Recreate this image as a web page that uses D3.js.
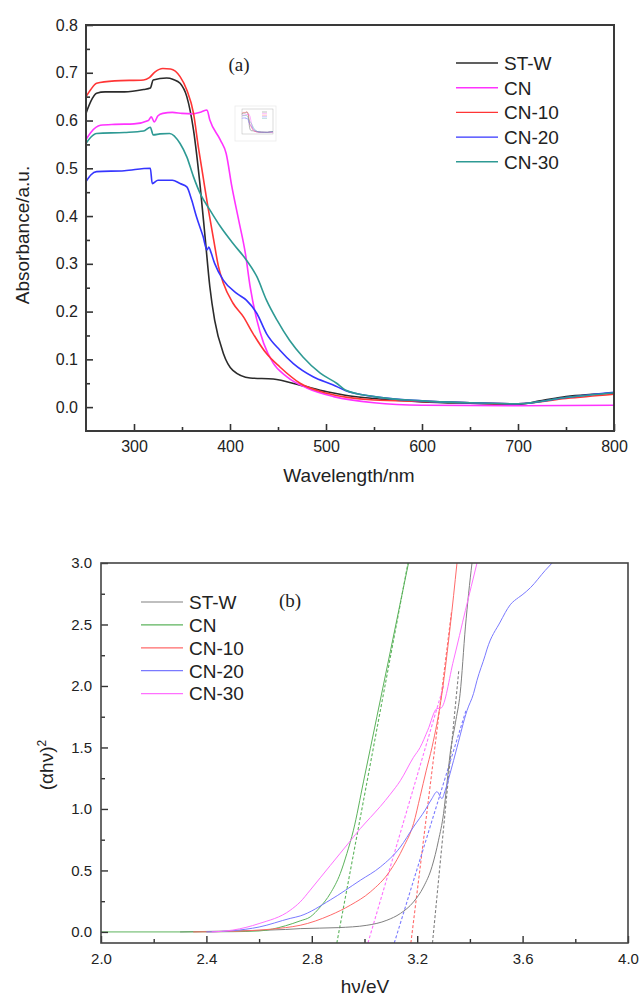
<!DOCTYPE html>
<html>
<head>
<meta charset="UTF-8">
<title>UV-vis absorbance and Tauc plot</title>
<script src="https://cdn.jsdelivr.net/npm/d3@7/dist/d3.min.js"></script>
<style>
  body { margin: 0; background: #fff; }
  text { font-family: "Liberation Sans", Arial, sans-serif; fill: #222; }
</style>
</head>
<body>
<script>
// ---- data (a): absorbance vs wavelength ----
var seriesNames = ["ST-W", "CN", "CN-10", "CN-20", "CN-30"];

var wlST  = [250,255,261,270,290,310,317,320,334,341,348,355,362,369,374,379,384,393,403,421,445,473,501,520,550,600,650,700,723,750,800];
var absST = [0.615,0.64,0.657,0.66,0.66,0.665,0.668,0.685,0.689,0.686,0.678,0.65,0.58,0.461,0.357,0.252,0.182,0.113,0.077,0.061,0.059,0.046,0.032,0.025,0.018,0.011,0.008,0.006,0.013,0.022,0.029];

var wlCN  = [250,255,265,280,300,315,318,321,325,330,340,350,360,370,376,379,390,396,402,409,416,421,428,435,445,459,480,508,550,600,700,800];
var absCN = [0.56,0.575,0.59,0.592,0.593,0.6,0.608,0.597,0.61,0.615,0.617,0.615,0.614,0.618,0.622,0.601,0.559,0.531,0.461,0.392,0.322,0.252,0.182,0.134,0.092,0.064,0.04,0.022,0.009,0.004,0.003,0.004];

var wlCN10  = [250,255,261,280,310,316,322,330,338,348,355,362,367,372,377,383,388,393,403,414,424,438,452,473,501,550,600,650,700,750,800];
var absCN10 = [0.65,0.665,0.678,0.683,0.685,0.69,0.702,0.709,0.708,0.692,0.664,0.615,0.545,0.482,0.419,0.35,0.294,0.26,0.218,0.189,0.154,0.112,0.084,0.05,0.029,0.015,0.012,0.009,0.007,0.018,0.027];

var wlCN20  = [250,255,261,290,317,319,325,340,348,355,360,365,372,376,378,380,384,393,407,417,428,438,452,466,487,507,520,550,600,650,700,750,800];
var absCN20 = [0.472,0.486,0.493,0.495,0.5,0.468,0.475,0.475,0.468,0.461,0.434,0.399,0.357,0.329,0.335,0.325,0.301,0.266,0.238,0.224,0.196,0.154,0.119,0.091,0.063,0.047,0.035,0.022,0.013,0.009,0.007,0.02,0.031];

var wlCN30  = [250,255,261,290,310,317,320,327,337,348,355,362,369,379,390,403,417,428,438,449,462,476,494,511,520,550,600,650,700,750,800];
var absCN30 = [0.552,0.565,0.573,0.575,0.578,0.586,0.57,0.572,0.573,0.552,0.524,0.482,0.447,0.413,0.378,0.343,0.308,0.273,0.224,0.182,0.14,0.105,0.071,0.05,0.036,0.022,0.013,0.009,0.007,0.02,0.03];

var colorsA = ["#2b2b2b", "#ff33ff", "#ff3535", "#3535ff", "#2e9a94"];
var xTicksA = [300, 400, 500, 600, 700, 800];
var yTicksA = [0.0, 0.1, 0.2, 0.3, 0.4, 0.5, 0.6, 0.7, 0.8];

// ---- data (b): Tauc plot ----
var evST  = [2.3,2.5,2.7,2.756,2.9,3.009,3.085,3.136,3.186,3.224,3.256,3.281,3.3,3.313,3.325,3.345,3.363,3.383,3.395,3.408];
var tauST = [0,0.008,0.02,0.027,0.035,0.054,0.095,0.15,0.244,0.366,0.53,0.746,0.963,1.21,1.45,1.7,1.94,2.48,2.75,3.0];

var evCN  = [2.0,2.3,2.5,2.6,2.7,2.756,2.794,2.832,2.87,2.908,2.933,2.958,2.996,3.022,3.047,3.098,3.142,3.167];
var tauCN = [0,0,0.002,0.008,0.05,0.09,0.122,0.203,0.312,0.475,0.637,0.827,1.22,1.49,1.75,2.28,2.74,3.0];

var evCN10  = [2.35,2.5,2.6,2.7,2.756,2.87,2.946,3.022,3.098,3.148,3.186,3.211,3.234,3.256,3.294,3.325,3.351];
var tauCN10 = [0,0.005,0.015,0.035,0.054,0.136,0.217,0.325,0.5,0.69,0.88,1.1,1.31,1.5,1.94,2.48,3.0];

var evCN20  = [2.4,2.5,2.6,2.718,2.756,2.87,2.984,3.06,3.136,3.186,3.23,3.256,3.275,3.294,3.306,3.325,3.351,3.389,3.414,3.427,3.458,3.465,3.515,3.553,3.585,3.598,3.63,3.686,3.712];
var tauCN20 = [0,0.01,0.04,0.11,0.13,0.26,0.42,0.528,0.69,0.854,0.99,1.085,1.14,1.085,1.15,1.29,1.5,1.8,1.94,2.046,2.25,2.3,2.52,2.66,2.72,2.74,2.8,2.94,3.0];

var evCN30  = [2.42,2.5,2.6,2.718,2.756,2.794,2.832,2.87,2.908,2.946,2.984,3.022,3.06,3.098,3.136,3.186,3.211,3.24,3.275,3.29,3.338,3.383,3.427];
var tauCN30 = [0,0.015,0.068,0.176,0.244,0.34,0.44,0.54,0.64,0.74,0.84,0.93,1.02,1.12,1.23,1.42,1.5,1.64,1.816,1.82,2.21,2.615,3.0];

// tangent (band gap) lines: [eV, value] start and end
var tangentStart = [[3.258,-0.09],[2.895,-0.09],[3.176,-0.09],[3.113,-0.09],[3.013,-0.09]];
var tangentEnd   = [[3.358,2.13],[3.165,3.0],[3.33,2.6],[3.385,1.8],[3.30,2.0]];

var colorsB = ["#808080", "#5cb35c", "#ff6a6a", "#7a7aff", "#ff70ff"];
var xTicksB = [2.0, 2.4, 2.8, 3.2, 3.6, 4.0];
var yTicksB = [0.0, 0.5, 1.0, 1.5, 2.0, 2.5, 3.0];

function zip(xs, ys) { return xs.map(function (x, i) { return [x, ys[i]]; }); }
var seriesA = [zip(wlST, absST), zip(wlCN, absCN), zip(wlCN10, absCN10), zip(wlCN20, absCN20), zip(wlCN30, absCN30)];
var seriesB = [zip(evST, tauST), zip(evCN, tauCN), zip(evCN10, tauCN10), zip(evCN20, tauCN20), zip(evCN30, tauCN30)];

var svg = d3.select("body").append("svg")
    .attr("width", 642)
    .attr("height", 997);

// ================= panel (a) =================
var xA = d3.scaleLinear().domain([250, 800]).range([86, 614]);
var yA = d3.scaleLinear().domain([-0.05, 0.8]).range([431, 25]);

var gA = svg.append("g");

gA.append("defs").append("clipPath").attr("id", "clipA")
    .append("rect").attr("x", 86).attr("y", 25).attr("width", 528).attr("height", 406);

var lineA = d3.line().x(function (d) { return xA(d[0]); }).y(function (d) { return yA(d[1]); })
    .curve(d3.curveMonotoneX);

gA.append("g").attr("clip-path", "url(#clipA)")
    .selectAll("path").data(seriesA).enter().append("path")
    .attr("d", lineA)
    .attr("fill", "none")
    .attr("stroke", function (d, i) { return colorsA[i]; })
    .attr("stroke-width", 1.6);

// minor ticks
gA.append("g").attr("transform", "translate(0,431)")
    .call(d3.axisBottom(xA).tickValues([350, 450, 550, 650, 750]).tickSize(-4).tickFormat(""))
    .call(function (g) { g.select(".domain").remove(); });
gA.append("g").attr("transform", "translate(86,0)")
    .call(d3.axisLeft(yA).tickValues([0.05, 0.15, 0.25, 0.35, 0.45, 0.55, 0.65, 0.75]).tickSize(-4).tickFormat(""))
    .call(function (g) { g.select(".domain").remove(); });

// major ticks
gA.append("g").attr("transform", "translate(0,431)")
    .call(d3.axisBottom(xA).tickValues(xTicksA).tickSize(-7).tickPadding(10).tickFormat(d3.format("d")))
    .call(function (g) { g.select(".domain").remove(); });
gA.append("g").attr("transform", "translate(86,0)")
    .call(d3.axisLeft(yA).tickValues(yTicksA).tickSize(-7).tickPadding(8).tickFormat(d3.format(".1f")))
    .call(function (g) { g.select(".domain").remove(); });

gA.selectAll(".tick line").attr("stroke", "#333").attr("stroke-width", 1.6);
gA.selectAll(".tick text").attr("font-size", 16).attr("fill", "#333")
    .attr("font-family", "'Liberation Sans', Arial, sans-serif");

gA.append("rect").attr("x", 86).attr("y", 25).attr("width", 528).attr("height", 406)
    .attr("fill", "none").attr("stroke", "#3a3a3a").attr("stroke-width", 2);

gA.append("text").attr("x", 349).attr("y", 482).attr("text-anchor", "middle")
    .attr("font-size", 19).text("Wavelength/nm");
gA.append("text").attr("transform", "translate(29,235) rotate(-90)").attr("text-anchor", "middle")
    .attr("font-size", 19).text("Absorbance/a.u.");
gA.append("text").attr("x", 239).attr("y", 71).attr("text-anchor", "middle")
    .attr("font-size", 19).style("font-family", "'Liberation Serif', 'Times New Roman', serif").text("(a)");

// legend (a)
var legA = gA.append("g").selectAll("g").data(seriesNames).enter().append("g")
    .attr("transform", function (d, i) { return "translate(0," + (63 + i * 24.7) + ")"; });
legA.append("line").attr("x1", 456).attr("x2", 498).attr("y1", 0).attr("y2", 0)
    .attr("stroke", function (d, i) { return colorsA[i]; }).attr("stroke-width", 1.4);
legA.append("text").attr("x", 504).attr("dy", "0.36em").attr("font-size", 19).text(function (d) { return d; });

// small thumbnail inset
var xI = d3.scaleLinear().domain([250, 800]).range([242, 273]);
var yI = d3.scaleLinear().domain([-0.05, 0.8]).range([134, 109]);
var inset = gA.append("g").attr("opacity", 0.75);
inset.append("rect").attr("x", 235).attr("y", 106).attr("width", 41).attr("height", 35)
    .attr("fill", "#fff").attr("stroke", "#ddd").attr("stroke-width", 0.6);
inset.append("rect").attr("x", 242).attr("y", 109).attr("width", 31).attr("height", 25)
    .attr("fill", "none").attr("stroke", "#888").attr("stroke-width", 0.4);
var lineI = d3.line().x(function (d) { return xI(d[0]); }).y(function (d) { return yI(d[1]); });
inset.selectAll("path.mini").data(seriesA).enter().append("path").attr("class", "mini")
    .attr("d", lineI).attr("fill", "none")
    .attr("stroke", function (d, i) { return colorsA[i]; }).attr("stroke-width", 0.5);
inset.selectAll("line.mini").data(seriesNames).enter().append("line").attr("class", "mini")
    .attr("x1", 262).attr("x2", 267)
    .attr("y1", function (d, i) { return 112 + i * 1.6; }).attr("y2", function (d, i) { return 112 + i * 1.6; })
    .attr("stroke", function (d, i) { return colorsA[i]; }).attr("stroke-width", 0.4);

// ================= panel (b) =================
var xB = d3.scaleLinear().domain([2.0, 4.0]).range([101, 628]);
var yB = d3.scaleLinear().domain([-0.09, 3.0]).range([943, 563]);

var gB = svg.append("g");

gB.append("defs").append("clipPath").attr("id", "clipB")
    .append("rect").attr("x", 101).attr("y", 563).attr("width", 527).attr("height", 380);

var lineB = d3.line().x(function (d) { return xB(d[0]); }).y(function (d) { return yB(d[1]); })
    .curve(d3.curveMonotoneX);

var plotB = gB.append("g").attr("clip-path", "url(#clipB)");

plotB.selectAll("line.tangent").data(tangentStart).enter().append("line").attr("class", "tangent")
    .attr("x1", function (d) { return xB(d[0]); })
    .attr("y1", function (d) { return yB(d[1]); })
    .attr("x2", function (d, i) { return xB(tangentEnd[i][0]); })
    .attr("y2", function (d, i) { return yB(tangentEnd[i][1]); })
    .attr("stroke", function (d, i) { return colorsB[i]; })
    .attr("stroke-width", 1.1)
    .attr("stroke-dasharray", "3,2");

plotB.selectAll("path").data(seriesB).enter().append("path")
    .attr("d", lineB)
    .attr("fill", "none")
    .attr("stroke", function (d, i) { return colorsB[i]; })
    .attr("stroke-width", 1);

gB.append("g").attr("transform", "translate(0,943)")
    .call(d3.axisBottom(xB).tickValues([2.2, 2.6, 3.0, 3.4, 3.8]).tickSize(-4).tickFormat(""))
    .call(function (g) { g.select(".domain").remove(); });
gB.append("g").attr("transform", "translate(101,0)")
    .call(d3.axisLeft(yB).tickValues([0.25, 0.75, 1.25, 1.75, 2.25, 2.75]).tickSize(-4).tickFormat(""))
    .call(function (g) { g.select(".domain").remove(); });

gB.append("g").attr("transform", "translate(0,943)")
    .call(d3.axisBottom(xB).tickValues(xTicksB).tickSize(-7).tickPadding(10).tickFormat(d3.format(".1f")))
    .call(function (g) { g.select(".domain").remove(); });
gB.append("g").attr("transform", "translate(101,0)")
    .call(d3.axisLeft(yB).tickValues(yTicksB).tickSize(-7).tickPadding(9).tickFormat(d3.format(".1f")))
    .call(function (g) { g.select(".domain").remove(); });

gB.selectAll(".tick line").attr("stroke", "#333").attr("stroke-width", 1.4);
gB.selectAll(".tick text").attr("font-size", 15).attr("fill", "#333")
    .attr("font-family", "'Liberation Sans', Arial, sans-serif");

gB.append("rect").attr("x", 101).attr("y", 563).attr("width", 527).attr("height", 380)
    .attr("fill", "none").attr("stroke", "#444").attr("stroke-width", 1.6);

gB.append("text").attr("x", 365).attr("y", 993).attr("text-anchor", "middle")
    .attr("font-size", 19).text("h\u03bd/eV");
var yLabB = gB.append("text").attr("transform", "translate(53,765) rotate(-90)").attr("text-anchor", "middle")
    .attr("font-size", 19);
yLabB.append("tspan").text("(\u03b1h\u03bd)");
yLabB.append("tspan").attr("dy", "-0.55em").attr("font-size", 12).text("2");
gB.append("text").attr("x", 290).attr("y", 607).attr("text-anchor", "middle")
    .attr("font-size", 19).style("font-family", "'Liberation Serif', 'Times New Roman', serif").text("(b)");

// legend (b)
var legB = gB.append("g").selectAll("g").data(seriesNames).enter().append("g")
    .attr("transform", function (d, i) { return "translate(0," + (602 + i * 22.9) + ")"; });
legB.append("line").attr("x1", 141).attr("x2", 183).attr("y1", 0).attr("y2", 0)
    .attr("stroke", function (d, i) { return colorsB[i]; }).attr("stroke-width", 1.2);
legB.append("text").attr("x", 189).attr("dy", "0.36em").attr("font-size", 19).text(function (d) { return d; });
</script>
</body>
</html>
